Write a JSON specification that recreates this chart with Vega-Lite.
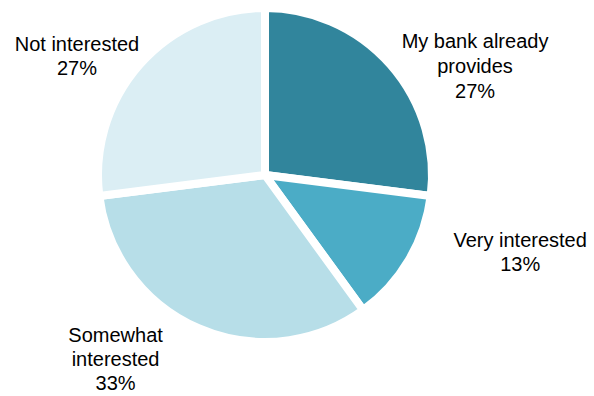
{
  "$schema": "https://vega.github.io/schema/vega-lite/v6.json",
  "width": 530,
  "height": 350,
  "autosize": {"type": "none"},
  "padding": {"left": 0, "top": 0, "right": 64, "bottom": 46},
  "background": "white",
  "config": {"view": {"stroke": null}, "font": "Liberation Sans"},
  "data": {
    "values": [
      {"rank": 1, "category": "My bank already provides", "value": 27, "label": "My bank already\nprovides\n27%"},
      {"rank": 2, "category": "Very interested", "value": 13, "label": "Very interested\n13%"},
      {"rank": 3, "category": "Somewhat interested", "value": 33, "label": "Somewhat\ninterested\n33%"},
      {"rank": 4, "category": "Not interested", "value": 27, "label": "Not interested\n27%"}
    ]
  },
  "encoding": {
    "theta": {"field": "value", "type": "quantitative", "stack": true},
    "order": {"field": "rank", "type": "quantitative"}
  },
  "layer": [
    {
      "mark": {"type": "arc", "outerRadius": 167, "stroke": "white", "strokeWidth": 8, "strokeJoin": "miter"},
      "encoding": {
        "color": {
          "field": "category",
          "type": "nominal",
          "scale": {
            "domain": ["My bank already provides", "Very interested", "Somewhat interested", "Not interested"],
            "range": ["#31859C", "#4BACC6", "#B7DEE8", "#DBEEF4"]
          },
          "legend": null
        }
      }
    },
    {
      "mark": {"type": "text", "radius": 200, "dx": 60, "dy": -1, "fontSize": 20, "lineBreak": "\n", "lineHeight": 25, "align": "center", "baseline": "middle", "color": "black"},
      "encoding": {"text": {"condition": {"test": "datum.rank === 1", "field": "label"}, "value": ""}}
    },
    {
      "mark": {"type": "text", "radius": 200, "dx": 83, "dy": -36, "fontSize": 20, "lineBreak": "\n", "lineHeight": 24, "align": "center", "baseline": "middle", "color": "black"},
      "encoding": {"text": {"condition": {"test": "datum.rank === 2", "field": "label"}, "value": ""}}
    },
    {
      "mark": {"type": "text", "radius": 200, "dx": -70, "dy": -23, "fontSize": 20, "lineBreak": "\n", "lineHeight": 24, "align": "center", "baseline": "middle", "color": "black"},
      "encoding": {"text": {"condition": {"test": "datum.rank === 3", "field": "label"}, "value": ""}}
    },
    {
      "mark": {"type": "text", "radius": 200, "dx": -38, "dy": 2, "fontSize": 20, "lineBreak": "\n", "lineHeight": 24, "align": "center", "baseline": "middle", "color": "black"},
      "encoding": {"text": {"condition": {"test": "datum.rank === 4", "field": "label"}, "value": ""}}
    }
  ]
}
